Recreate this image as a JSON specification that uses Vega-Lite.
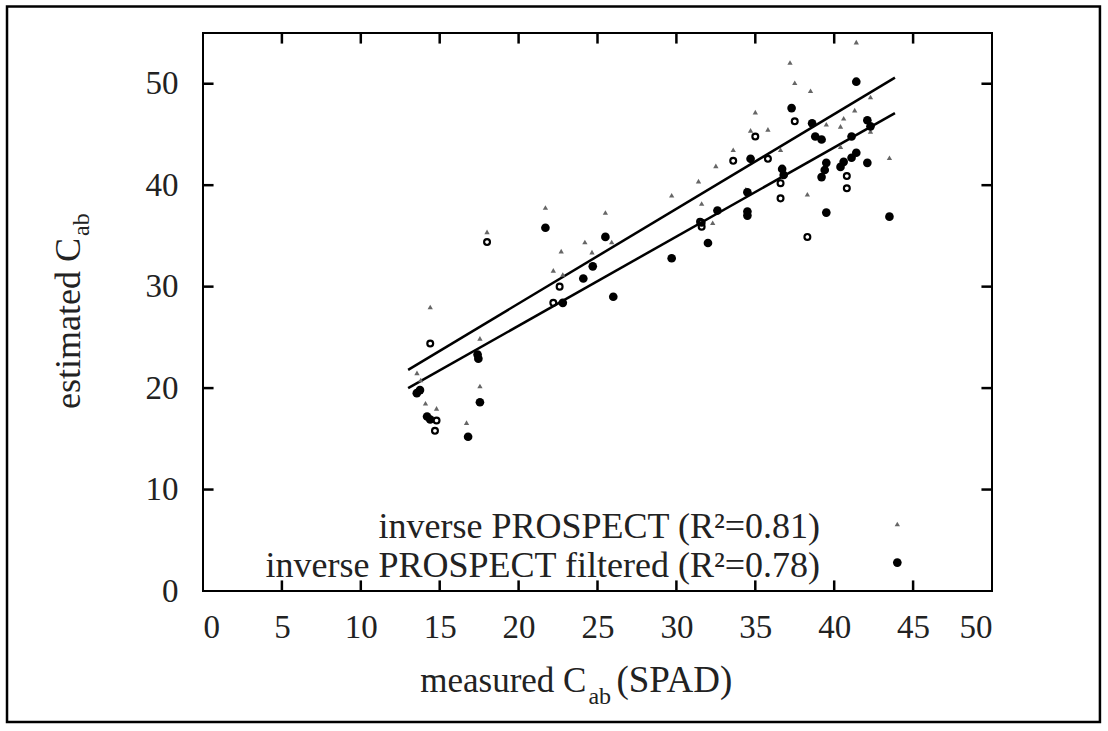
{
  "$schema": "https://vega.github.io/schema/vega-lite/v6.json",
  "width": 789,
  "height": 558,
  "autosize": "none",
  "padding": {"left": 203, "top": 33, "right": 116, "bottom": 140},
  "background": "white",
  "config": {
    "view": {"stroke": "black", "strokeWidth": 2},
    "font": "Liberation Serif",
    "axis": {"grid": false, "domain": false, "ticks": false, "tickSize": 0, "labelFont": "Liberation Serif", "labelFontSize": 33, "labelColor": "#222"}
  },
  "datasets": {
    "pts": [
      {"series": "tri", "x": 18.0, "y": 35.4}, {"series": "tri", "x": 14.4, "y": 28.0}, {"series": "tri", "x": 17.55, "y": 24.9},
      {"series": "tri", "x": 13.56, "y": 21.5}, {"series": "tri", "x": 13.8, "y": 20.8}, {"series": "tri", "x": 17.55, "y": 20.2},
      {"series": "tri", "x": 14.1, "y": 18.5}, {"series": "tri", "x": 14.8, "y": 18.0}, {"series": "tri", "x": 16.7, "y": 16.6},
      {"series": "tri", "x": 21.7, "y": 37.8}, {"series": "tri", "x": 25.5, "y": 37.3}, {"series": "tri", "x": 22.7, "y": 33.5},
      {"series": "tri", "x": 24.2, "y": 34.4}, {"series": "tri", "x": 24.65, "y": 33.4}, {"series": "tri", "x": 22.2, "y": 31.6},
      {"series": "tri", "x": 22.8, "y": 31.2}, {"series": "tri", "x": 25.9, "y": 34.4}, {"series": "tri", "x": 29.7, "y": 39.0},
      {"series": "tri", "x": 31.6, "y": 38.2}, {"series": "tri", "x": 35.0, "y": 47.2}, {"series": "tri", "x": 34.7, "y": 45.4},
      {"series": "tri", "x": 35.8, "y": 45.5}, {"series": "tri", "x": 33.6, "y": 43.5}, {"series": "tri", "x": 32.5, "y": 41.9},
      {"series": "tri", "x": 31.4, "y": 40.4}, {"series": "tri", "x": 36.6, "y": 43.5}, {"series": "tri", "x": 34.4, "y": 39.6},
      {"series": "tri", "x": 32.3, "y": 36.3}, {"series": "tri", "x": 41.4, "y": 54.1}, {"series": "tri", "x": 37.2, "y": 52.1},
      {"series": "tri", "x": 37.5, "y": 50.1}, {"series": "tri", "x": 38.5, "y": 49.3}, {"series": "tri", "x": 42.3, "y": 48.7},
      {"series": "tri", "x": 41.3, "y": 47.4}, {"series": "tri", "x": 40.6, "y": 46.6}, {"series": "tri", "x": 40.4, "y": 45.8},
      {"series": "tri", "x": 39.5, "y": 46.0}, {"series": "tri", "x": 39.3, "y": 44.5}, {"series": "tri", "x": 42.3, "y": 45.3},
      {"series": "tri", "x": 40.4, "y": 43.8}, {"series": "tri", "x": 43.5, "y": 42.7}, {"series": "tri", "x": 38.3, "y": 39.1},
      {"series": "filt", "x": 17.4, "y": 23.3}, {"series": "filt", "x": 17.45, "y": 22.9}, {"series": "filt", "x": 13.75, "y": 19.8},
      {"series": "filt", "x": 13.55, "y": 19.5}, {"series": "filt", "x": 17.55, "y": 18.6}, {"series": "filt", "x": 14.2, "y": 17.2},
      {"series": "filt", "x": 14.4, "y": 16.9}, {"series": "filt", "x": 16.8, "y": 15.2}, {"series": "filt", "x": 21.7, "y": 35.8},
      {"series": "filt", "x": 25.5, "y": 34.9}, {"series": "filt", "x": 24.7, "y": 32.0}, {"series": "filt", "x": 24.1, "y": 30.8},
      {"series": "filt", "x": 22.8, "y": 28.4}, {"series": "filt", "x": 26.0, "y": 29.0}, {"series": "filt", "x": 29.7, "y": 32.8},
      {"series": "filt", "x": 32.0, "y": 34.3}, {"series": "filt", "x": 37.3, "y": 47.6}, {"series": "filt", "x": 34.7, "y": 42.6},
      {"series": "filt", "x": 36.7, "y": 41.6}, {"series": "filt", "x": 36.8, "y": 41.0}, {"series": "filt", "x": 34.5, "y": 39.3},
      {"series": "filt", "x": 34.5, "y": 37.4}, {"series": "filt", "x": 34.5, "y": 37.0}, {"series": "filt", "x": 32.6, "y": 37.5},
      {"series": "filt", "x": 41.4, "y": 50.2}, {"series": "filt", "x": 38.6, "y": 46.1}, {"series": "filt", "x": 42.1, "y": 46.4},
      {"series": "filt", "x": 42.3, "y": 45.8}, {"series": "filt", "x": 38.8, "y": 44.8}, {"series": "filt", "x": 39.2, "y": 44.5},
      {"series": "filt", "x": 41.1, "y": 44.8}, {"series": "filt", "x": 41.4, "y": 43.2}, {"series": "filt", "x": 41.1, "y": 42.7},
      {"series": "filt", "x": 40.6, "y": 42.3}, {"series": "filt", "x": 40.4, "y": 41.8}, {"series": "filt", "x": 39.5, "y": 42.2},
      {"series": "filt", "x": 39.4, "y": 41.5}, {"series": "filt", "x": 39.2, "y": 40.8}, {"series": "filt", "x": 42.1, "y": 42.2},
      {"series": "filt", "x": 39.5, "y": 37.3}, {"series": "filt", "x": 43.5, "y": 36.9},
      {"series": "open", "x": 18.0, "y": 34.4}, {"series": "open", "x": 14.4, "y": 24.4}, {"series": "open", "x": 14.8, "y": 16.8},
      {"series": "open", "x": 14.7, "y": 15.8}, {"series": "open", "x": 22.6, "y": 30.0}, {"series": "open", "x": 22.2, "y": 28.4},
      {"series": "open", "x": 31.6, "y": 36.3}, {"series": "open", "x": 37.5, "y": 46.3}, {"series": "open", "x": 35.0, "y": 44.8},
      {"series": "open", "x": 33.6, "y": 42.4}, {"series": "open", "x": 35.8, "y": 42.6}, {"series": "open", "x": 36.6, "y": 40.2},
      {"series": "open", "x": 36.6, "y": 38.7}, {"series": "open", "x": 31.5, "y": 36.4}, {"series": "open", "x": 31.6, "y": 35.9},
      {"series": "open", "x": 40.8, "y": 40.9}, {"series": "open", "x": 40.8, "y": 39.7}, {"series": "open", "x": 38.3, "y": 34.9}
    ],
    "fits": [
      {"fit": "inverse PROSPECT", "x": 13.0, "y": 21.8}, {"fit": "inverse PROSPECT", "x": 43.85, "y": 50.6},
      {"fit": "inverse PROSPECT filtered", "x": 13.0, "y": 20.0}, {"fit": "inverse PROSPECT filtered", "x": 43.85, "y": 47.1}
    ],
    "legend": [
      {"series": "tri", "label": "inverse PROSPECT (R²=0.81)", "x": 44.0, "y": 6.6, "tx": 39.1, "ty": 6.35},
      {"series": "filt", "label": "inverse PROSPECT filtered (R²=0.78)", "x": 44.0, "y": 2.8, "tx": 39.1, "ty": 2.5}
    ],
    "xticks": [{"v": 5}, {"v": 10}, {"v": 15}, {"v": 20}, {"v": 25}, {"v": 30}, {"v": 35}, {"v": 40}, {"v": 45}],
    "yticks": [{"v": 10}, {"v": 20}, {"v": 30}, {"v": 40}, {"v": 50}]
  },
  "layer": [
    {
      "data": {"name": "fits"},
      "mark": {"type": "line", "color": "black", "strokeWidth": 2.5},
      "encoding": {
        "x": {"field": "x", "type": "quantitative", "scale": {"domain": [0, 50], "nice": false},
              "axis": {"orient": "bottom", "values": [0,5,10,15,20,25,30,35,40,45,50], "labelPadding": 20, "title": null}},
        "y": {"field": "y", "type": "quantitative", "scale": {"domain": [0, 55], "nice": false},
              "axis": {"orient": "left", "values": [0,10,20,30,40,50], "labelPadding": 25, "title": null}},
        "detail": {"field": "fit"}
      }
    },
    {
      "data": {"name": "xticks"},
      "mark": {"type": "tick", "orient": "vertical", "color": "black", "size": 11, "thickness": 2.5, "opacity": 1},
      "encoding": {"x": {"field": "v", "type": "quantitative"}, "y": {"datum": 0.5, "type": "quantitative"}}
    },
    {
      "data": {"name": "xticks"},
      "mark": {"type": "tick", "orient": "vertical", "color": "black", "size": 11, "thickness": 2.5, "opacity": 1},
      "encoding": {"x": {"field": "v", "type": "quantitative"}, "y": {"datum": 54.5, "type": "quantitative"}}
    },
    {
      "data": {"name": "yticks"},
      "mark": {"type": "tick", "orient": "horizontal", "color": "black", "size": 11, "thickness": 2.5, "opacity": 1},
      "encoding": {"y": {"field": "v", "type": "quantitative"}, "x": {"datum": 0.32, "type": "quantitative"}}
    },
    {
      "data": {"name": "yticks"},
      "mark": {"type": "tick", "orient": "horizontal", "color": "black", "size": 11, "thickness": 2.5, "opacity": 1},
      "encoding": {"y": {"field": "v", "type": "quantitative"}, "x": {"datum": 49.68, "type": "quantitative"}}
    },
    {
      "data": {"name": "pts"},
      "transform": [{"filter": "datum.series === 'tri'"}],
      "mark": {"type": "point", "shape": "triangle-up", "filled": true, "color": "#666", "size": 28, "opacity": 1},
      "encoding": {
        "x": {"field": "x", "type": "quantitative"},
        "y": {"field": "y", "type": "quantitative"}
      }
    },
    {
      "data": {"name": "pts"},
      "transform": [{"filter": "datum.series === 'open'"}],
      "mark": {"type": "point", "shape": "circle", "filled": false, "color": "black", "strokeWidth": 2.2, "size": 34, "opacity": 1},
      "encoding": {
        "x": {"field": "x", "type": "quantitative"},
        "y": {"field": "y", "type": "quantitative"}
      }
    },
    {
      "data": {"name": "pts"},
      "transform": [{"filter": "datum.series === 'filt'"}],
      "mark": {"type": "point", "shape": "circle", "filled": true, "color": "black", "size": 75, "opacity": 1},
      "encoding": {
        "x": {"field": "x", "type": "quantitative"},
        "y": {"field": "y", "type": "quantitative"}
      }
    },
    {
      "data": {"name": "legend"},
      "mark": {"type": "text", "align": "right", "baseline": "middle", "fontSize": 36, "font": "Liberation Serif", "color": "#222"},
      "encoding": {
        "x": {"field": "tx", "type": "quantitative"},
        "y": {"field": "ty", "type": "quantitative"},
        "text": {"field": "label"}
      }
    },
    {
      "data": {"name": "legend"},
      "transform": [{"filter": "datum.series === 'tri'"}],
      "mark": {"type": "point", "shape": "triangle-up", "filled": true, "color": "#666", "size": 28, "opacity": 1},
      "encoding": {
        "x": {"field": "x", "type": "quantitative"},
        "y": {"field": "y", "type": "quantitative"}
      }
    },
    {
      "data": {"name": "legend"},
      "transform": [{"filter": "datum.series === 'filt'"}],
      "mark": {"type": "point", "shape": "circle", "filled": true, "color": "black", "size": 75, "opacity": 1},
      "encoding": {
        "x": {"field": "x", "type": "quantitative"},
        "y": {"field": "y", "type": "quantitative"}
      }
    },
    {
      "data": {"values": [{}]},
      "mark": {"type": "text", "text": "measured C", "align": "right", "baseline": "alphabetic", "fontSize": 35, "font": "Liberation Serif", "color": "#222"},
      "encoding": {"x": {"datum": 24.3, "type": "quantitative"}, "y": {"datum": -9.96, "type": "quantitative"}}
    },
    {
      "data": {"values": [{}]},
      "mark": {"type": "text", "text": "ab", "align": "left", "baseline": "alphabetic", "fontSize": 24, "dx": 2, "dy": 12, "font": "Liberation Serif", "color": "#222"},
      "encoding": {"x": {"datum": 24.3, "type": "quantitative"}, "y": {"datum": -9.96, "type": "quantitative"}}
    },
    {
      "data": {"values": [{}]},
      "mark": {"type": "text", "text": "(SPAD)", "align": "left", "baseline": "alphabetic", "fontSize": 37, "dx": 30, "font": "Liberation Serif", "color": "#222"},
      "encoding": {"x": {"datum": 24.3, "type": "quantitative"}, "y": {"datum": -9.96, "type": "quantitative"}}
    },
    {
      "data": {"values": [{}]},
      "mark": {"type": "text", "text": "estimated C", "align": "right", "baseline": "alphabetic", "angle": 270, "fontSize": 36, "font": "Liberation Serif", "color": "#222"},
      "encoding": {"x": {"datum": -7.8, "type": "quantitative"}, "y": {"datum": 34.8, "type": "quantitative"}}
    },
    {
      "data": {"values": [{}]},
      "mark": {"type": "text", "text": "ab", "align": "left", "baseline": "alphabetic", "angle": 270, "fontSize": 24, "dx": 2, "dy": 9, "font": "Liberation Serif", "color": "#222"},
      "encoding": {"x": {"datum": -7.8, "type": "quantitative"}, "y": {"datum": 34.8, "type": "quantitative"}}
    },
    {
      "data": {"values": [{}]},
      "mark": {"type": "rect", "filled": false, "stroke": "black", "strokeWidth": 2.5, "fill": null},
      "encoding": {
        "x": {"datum": -12.42, "type": "quantitative"}, "x2": {"datum": 56.84},
        "y": {"datum": 57.6, "type": "quantitative"}, "y2": {"datum": -12.92}
      }
    }
  ]
}
